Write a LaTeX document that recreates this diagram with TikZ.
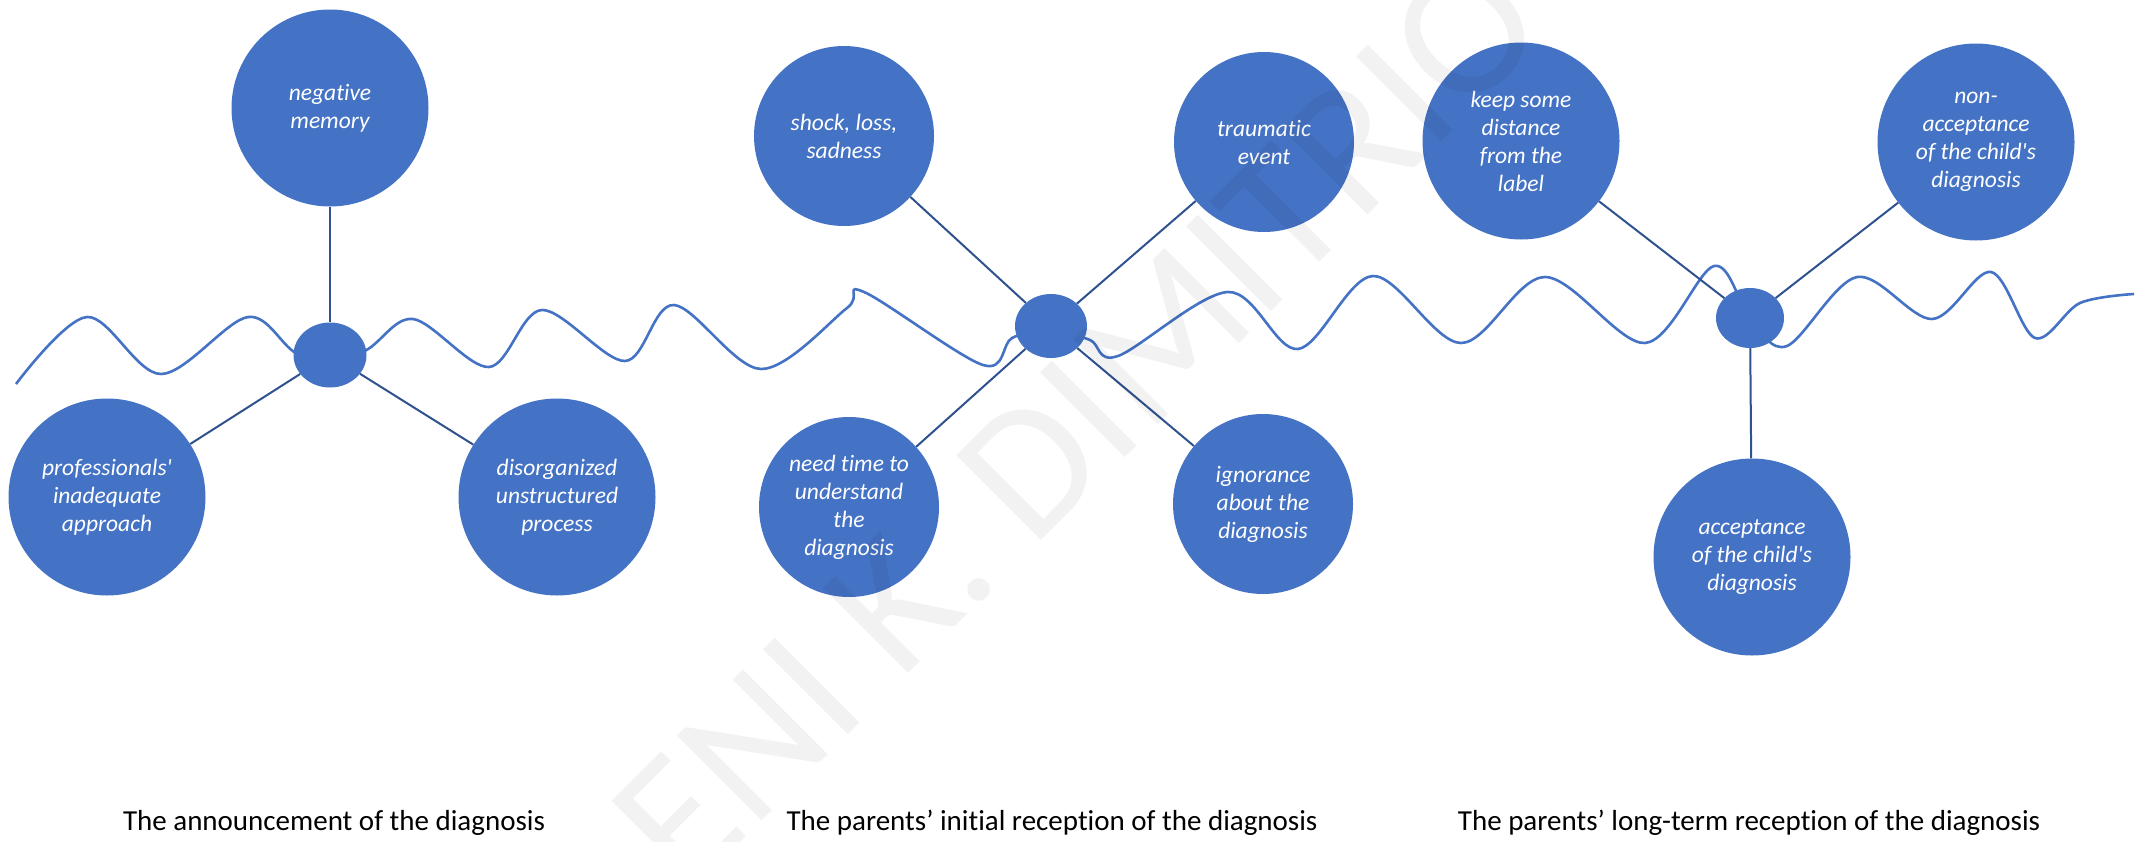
\documentclass[tikz,border=0pt]{standalone}
\usepackage{fontspec}
\setmainfont{Carlito}[Ligatures=NoCommon]
\usepackage{xcolor}
\usepackage{tikz}
\usetikzlibrary{positioning, shapes.geometric}
\definecolor{stageblue}{HTML}{4472C4}
\definecolor{spokeblue}{HTML}{2F528F}

\begin{document}
\begin{tikzpicture}[x=1pt, y=-1pt,
  bubble/.style={circle, fill=stageblue, text=white, inner sep=0pt, align=center, font=\fontsize{23.5}{28}\selectfont\itshape},
  hub/.style={ellipse, fill=stageblue, inner sep=0pt},
  spoke/.style={draw=spokeblue, line width=2pt},
  stage/.style={font=\fontsize{29}{35}\selectfont, text=black}]
  \useasboundingbox (0,0) rectangle (2138,841);
  % the wave of time
  \draw[stageblue, line width=2.6pt] plot[smooth, tension=0.55] coordinates {
    (16,384) (87,317) (161,374) (248,317) (300,355) (362,352) (413,319) (489,367)
    (542,310) (625,361) (674,305) (761,369) (847,308) (864,292) (983,365) (1012,338)
    (1051,330) (1090,340) (1118,356) (1228,292) (1298,349) (1373,276) (1461,343)
    (1545,277) (1645,343) (1714,266) (1750,318) (1787,346) (1857,277) (1932,319)
    (1991,272) (2035,338) (2080,303) (2134,294)};
  % announcement
  \node[hub, minimum width=73pt, minimum height=65pt] (hubA) at (330,355) {};
  \node[bubble, minimum size=197pt] (memory) at (330,108) {negative\\memory};
  \node[bubble, minimum size=197pt] (approach) at (107,497) {professionals\textquotesingle\\inadequate\\approach};
  \node[bubble, minimum size=197pt] (process) at (557,497) {disorganized\\unstructured\\process};
  \draw[spoke] (memory) -- (hubA);
  \draw[spoke] (approach) -- (hubA);
  \draw[spoke] (process) -- (hubA);
  % initial reception
  \node[hub, minimum width=72pt, minimum height=64pt] (hubB) at (1051,326) {};
  \node[bubble, minimum size=180pt] (shock) at (844,136) {shock, loss,\\sadness};
  \node[bubble, minimum size=180pt] (trauma) at (1264,142) {traumatic\\event};
  \node[bubble, minimum size=180pt] (needtime) at (849,507) {need time to\\understand\\the\\diagnosis};
  \node[bubble, minimum size=180pt] (ignorance) at (1263,504) {ignorance\\about the\\diagnosis};
  \draw[spoke] (shock) -- (hubB);
  \draw[spoke] (trauma) -- (hubB);
  \draw[spoke] (needtime) -- (hubB);
  \draw[spoke] (ignorance) -- (hubB);
  % long-term reception
  \node[hub, minimum width=68pt, minimum height=60pt] (hubC) at (1750,318) {};
  \node[bubble, minimum size=197pt] (distance) at (1521,141) {keep some\\distance\\from the\\label};
  \node[bubble, minimum size=197pt] (nonaccept) at (1976,142) {non-\\acceptance\\of the child\textquotesingle s\\diagnosis};
  \node[bubble, minimum size=197pt] (accept) at (1752,557) {acceptance\\of the child\textquotesingle s\\diagnosis};
  \draw[spoke] (distance) -- (hubC);
  \draw[spoke] (nonaccept) -- (hubC);
  \draw[spoke] (accept) -- (hubC);
  % stages
  \node[stage] (announce) at (334,823) {The announcement of the diagnosis};
  \node[stage] (initial) at (1052,823) {The parents’ initial reception of the diagnosis};
  \node[stage] (longterm) at (1749,823) {The parents’ long-term reception of the diagnosis};
  % watermark
  \begin{scope}
    \clip (0,0) rectangle (2138,841);
    \node[rotate=45, font=\fontsize{187}{187}\selectfont, text=black, text opacity=0.05] (mark) at (1077,421) {ENI K. DIMITRIO};
  \end{scope}
\end{tikzpicture}
\end{document}
